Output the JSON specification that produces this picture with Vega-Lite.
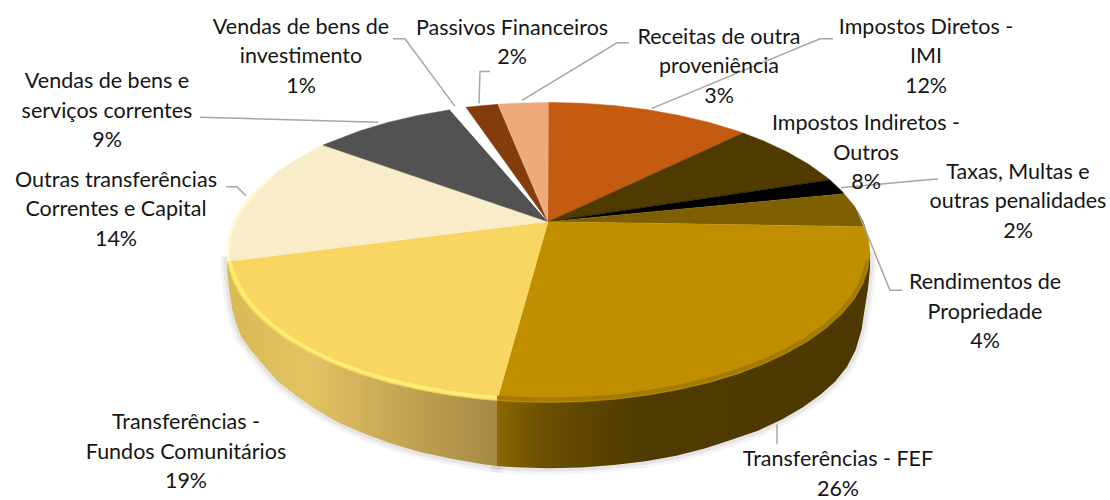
{"$schema":"https://vega.github.io/schema/vega-lite/v6.json","width":1110,"height":500,"autosize":{"type":"fit","contains":"padding"},"padding":0,"background":"white","view":{"stroke":null},
"datasets":{
"slices":[
{"s":"IMI","i":0,"x":548,"y":223},{"s":"IMI","i":1,"x":548.5,"y":103},{"s":"IMI","i":2,"x":582.1,"y":103.8},{"s":"IMI","i":3,"x":615.3,"y":106.3},{"s":"IMI","i":4,"x":647.8,"y":110.4},{"s":"IMI","i":5,"x":679.3,"y":116.1},{"s":"IMI","i":6,"x":709.3,"y":123.2},{"s":"IMI","i":7,"x":737.5,"y":131.8},{"s":"IMI","i":8,"x":743,"y":133.8},
{"s":"Outros","i":0,"x":548,"y":223},{"s":"Outros","i":1,"x":743,"y":133.8},{"s":"Outros","i":2,"x":763.6,"y":141.8},{"s":"Outros","i":3,"x":787.4,"y":153},{"s":"Outros","i":4,"x":808.6,"y":165.2},{"s":"Outros","i":5,"x":826.9,"y":178.5},{"s":"Outros","i":6,"x":830,"y":181},
{"s":"Taxas","i":0,"x":548,"y":223},{"s":"Taxas","i":1,"x":830,"y":181},{"s":"Taxas","i":2,"x":842.2,"y":192.6},{"s":"Taxas","i":3,"x":844,"y":195},
{"s":"Rendimentos","i":0,"x":548,"y":223},{"s":"Rendimentos","i":1,"x":844,"y":195},{"s":"Rendimentos","i":2,"x":854.3,"y":207.3},{"s":"Rendimentos","i":3,"x":863,"y":222.6},{"s":"Rendimentos","i":4,"x":865,"y":228},
{"s":"FEF","i":0,"x":548,"y":223},{"s":"FEF","i":1,"x":865,"y":228},{"s":"FEF","i":2,"x":868.2,"y":238.2},{"s":"FEF","i":3,"x":870,"y":254},{"s":"FEF","i":4,"x":868.2,"y":269.8},{"s":"FEF","i":5,"x":863,"y":285.4},{"s":"FEF","i":6,"x":854.3,"y":300.7},{"s":"FEF","i":7,"x":842.2,"y":315.4},{"s":"FEF","i":8,"x":826.9,"y":329.5},{"s":"FEF","i":9,"x":808.6,"y":342.8},{"s":"FEF","i":10,"x":787.4,"y":355},{"s":"FEF","i":11,"x":763.6,"y":366.2},{"s":"FEF","i":12,"x":737.5,"y":376.2},{"s":"FEF","i":13,"x":709.3,"y":384.8},{"s":"FEF","i":14,"x":679.3,"y":391.9},{"s":"FEF","i":15,"x":647.8,"y":397.6},{"s":"FEF","i":16,"x":615.3,"y":401.7},{"s":"FEF","i":17,"x":582.1,"y":404.2},{"s":"FEF","i":18,"x":548.5,"y":405},{"s":"FEF","i":19,"x":514.9,"y":404.2},{"s":"FEF","i":20,"x":497,"y":403},
{"s":"Fundos","i":0,"x":548,"y":223},{"s":"Fundos","i":1,"x":497,"y":403},{"s":"Fundos","i":2,"x":481.7,"y":401.7},{"s":"Fundos","i":3,"x":449.2,"y":397.6},{"s":"Fundos","i":4,"x":417.7,"y":391.9},{"s":"Fundos","i":5,"x":387.7,"y":384.8},{"s":"Fundos","i":6,"x":359.5,"y":376.2},{"s":"Fundos","i":7,"x":333.4,"y":366.2},{"s":"Fundos","i":8,"x":309.6,"y":355},{"s":"Fundos","i":9,"x":288.4,"y":342.8},{"s":"Fundos","i":10,"x":270.1,"y":329.5},{"s":"Fundos","i":11,"x":254.8,"y":315.4},{"s":"Fundos","i":12,"x":242.7,"y":300.7},{"s":"Fundos","i":13,"x":234,"y":285.4},{"s":"Fundos","i":14,"x":228.8,"y":269.8},{"s":"Fundos","i":15,"x":227.3,"y":263},
{"s":"Correntes","i":0,"x":548,"y":223},{"s":"Correntes","i":1,"x":227.3,"y":263},{"s":"Correntes","i":2,"x":227,"y":254},{"s":"Correntes","i":3,"x":228.8,"y":238.2},{"s":"Correntes","i":4,"x":234,"y":222.6},{"s":"Correntes","i":5,"x":242.7,"y":207.3},{"s":"Correntes","i":6,"x":254.8,"y":192.6},{"s":"Correntes","i":7,"x":270.1,"y":178.5},{"s":"Correntes","i":8,"x":288.4,"y":165.2},{"s":"Correntes","i":9,"x":309.6,"y":153},{"s":"Correntes","i":10,"x":323,"y":146},
{"s":"Vendas","i":0,"x":548,"y":223},{"s":"Vendas","i":1,"x":323,"y":146},{"s":"Vendas","i":2,"x":333.4,"y":141.8},{"s":"Vendas","i":3,"x":359.5,"y":131.8},{"s":"Vendas","i":4,"x":387.7,"y":123.2},{"s":"Vendas","i":5,"x":417.7,"y":116.1},{"s":"Vendas","i":6,"x":450,"y":110.4},
{"s":"Investimento","i":0,"x":548,"y":223},{"s":"Investimento","i":1,"x":450,"y":110.4},{"s":"Investimento","i":2,"x":466,"y":108},
{"s":"Passivos","i":0,"x":548,"y":223},{"s":"Passivos","i":1,"x":466,"y":108},{"s":"Passivos","i":2,"x":481.7,"y":106.3},{"s":"Passivos","i":3,"x":498,"y":105},
{"s":"Receitas","i":0,"x":548,"y":223},{"s":"Receitas","i":1,"x":498,"y":105},{"s":"Receitas","i":2,"x":514.9,"y":103.8},{"s":"Receitas","i":3,"x":548.5,"y":103}
],
"walls":[
{"s":"Fundos","i":0,"x":497,"y":400},{"s":"Fundos","i":1,"x":497,"y":468.8},{"s":"Fundos","i":2,"x":483.2,"y":467},{"s":"Fundos","i":3,"x":451.5,"y":461.5},{"s":"Fundos","i":4,"x":420.8,"y":455},{"s":"Fundos","i":5,"x":391.5,"y":446.5},{"s":"Fundos","i":6,"x":363.9,"y":436},{"s":"Fundos","i":7,"x":338.4,"y":425},{"s":"Fundos","i":8,"x":315.2,"y":411.5},{"s":"Fundos","i":9,"x":294.5,"y":397},{"s":"Fundos","i":10,"x":276.6,"y":382.5},{"s":"Fundos","i":11,"x":261.6,"y":365},{"s":"Fundos","i":12,"x":249.9,"y":351},{"s":"Fundos","i":13,"x":241.4,"y":339},{"s":"Fundos","i":14,"x":236,"y":325},{"s":"Fundos","i":15,"x":232,"y":310},{"s":"Fundos","i":16,"x":229,"y":290},{"s":"Fundos","i":17,"x":227,"y":270},{"s":"Fundos","i":18,"x":227,"y":258},
{"s":"FEF","i":0,"x":497,"y":400},{"s":"FEF","i":1,"x":497,"y":468.8},{"s":"FEF","i":2,"x":515.7,"y":470.1},{"s":"FEF","i":3,"x":548.5,"y":471},{"s":"FEF","i":4,"x":581.3,"y":470.2},{"s":"FEF","i":5,"x":613.8,"y":467.8},{"s":"FEF","i":6,"x":645.5,"y":464},{"s":"FEF","i":7,"x":676.2,"y":458.5},{"s":"FEF","i":8,"x":705.5,"y":451},{"s":"FEF","i":9,"x":733,"y":442},{"s":"FEF","i":10,"x":758.6,"y":433},{"s":"FEF","i":11,"x":781.8,"y":422},{"s":"FEF","i":12,"x":802.5,"y":410},{"s":"FEF","i":13,"x":820,"y":397.5},{"s":"FEF","i":14,"x":835,"y":384},{"s":"FEF","i":15,"x":847,"y":369},{"s":"FEF","i":16,"x":855.6,"y":352},{"s":"FEF","i":17,"x":861.5,"y":332},{"s":"FEF","i":18,"x":864.5,"y":312},{"s":"FEF","i":19,"x":868,"y":290},{"s":"FEF","i":20,"x":870,"y":270},{"s":"FEF","i":21,"x":870,"y":254}
],
"rims":[
{"s":"Fundos","i":0,"x":497,"y":400},{"s":"Fundos","i":1,"x":481.7,"y":398.8},{"s":"Fundos","i":2,"x":449.2,"y":394.6},{"s":"Fundos","i":3,"x":417.7,"y":388.9},{"s":"Fundos","i":4,"x":387.7,"y":381.8},{"s":"Fundos","i":5,"x":359.5,"y":373.2},{"s":"Fundos","i":6,"x":333.4,"y":363.2},{"s":"Fundos","i":7,"x":310.6,"y":352},{"s":"Fundos","i":8,"x":289.9,"y":340},{"s":"Fundos","i":9,"x":272,"y":326.8},{"s":"Fundos","i":10,"x":257,"y":313},{"s":"Fundos","i":11,"x":245,"y":298.5},{"s":"Fundos","i":12,"x":236.5,"y":283.5},{"s":"Fundos","i":13,"x":231,"y":268},{"s":"Fundos","i":14,"x":229.5,"y":263},
{"s":"FEF","i":0,"x":867.5,"y":262},{"s":"FEF","i":1,"x":865.5,"y":270},{"s":"FEF","i":2,"x":860.5,"y":285},{"s":"FEF","i":3,"x":852,"y":299.5},{"s":"FEF","i":4,"x":840.2,"y":313.5},{"s":"FEF","i":5,"x":825.2,"y":327.5},{"s":"FEF","i":6,"x":807,"y":340.5},{"s":"FEF","i":7,"x":786,"y":352.5},{"s":"FEF","i":8,"x":762.6,"y":363.5},{"s":"FEF","i":9,"x":736.5,"y":373.4},{"s":"FEF","i":10,"x":708.5,"y":382},{"s":"FEF","i":11,"x":678.8,"y":389},{"s":"FEF","i":12,"x":647.5,"y":394.7},{"s":"FEF","i":13,"x":615.1,"y":398.8},{"s":"FEF","i":14,"x":582,"y":401.2},{"s":"FEF","i":15,"x":548.5,"y":402},{"s":"FEF","i":16,"x":514.9,"y":401.2},{"s":"FEF","i":17,"x":497,"y":400},
{"s":"Correntes","i":0,"x":228.5,"y":263},{"s":"Correntes","i":1,"x":228,"y":254},{"s":"Correntes","i":2,"x":229.8,"y":238.2},{"s":"Correntes","i":3,"x":235,"y":222.6},{"s":"Correntes","i":4,"x":243.7,"y":207.3},{"s":"Correntes","i":5,"x":255.8,"y":192.6},{"s":"Correntes","i":6,"x":271,"y":178.5}
],
"leaders":[
{"g":"Investimento","i":0,"x":393,"y":39},{"g":"Investimento","i":1,"x":405,"y":39},{"g":"Investimento","i":2,"x":455,"y":107},
{"g":"Passivos","i":0,"x":490,"y":72},{"g":"Passivos","i":1,"x":480,"y":72},{"g":"Passivos","i":2,"x":479,"y":104},
{"g":"Receitas","i":0,"x":629,"y":43},{"g":"Receitas","i":1,"x":617,"y":43},{"g":"Receitas","i":2,"x":522,"y":101},
{"g":"IMI","i":0,"x":833,"y":39},{"g":"IMI","i":1,"x":820,"y":39},{"g":"IMI","i":2,"x":652,"y":109},
{"g":"Taxas","i":0,"x":938,"y":180},{"g":"Taxas","i":1,"x":925,"y":181},{"g":"Taxas","i":2,"x":841,"y":189},
{"g":"Rendimentos","i":0,"x":902,"y":292},{"g":"Rendimentos","i":1,"x":890,"y":292},{"g":"Rendimentos","i":2,"x":858,"y":213},
{"g":"FEF","i":0,"x":777,"y":447},{"g":"FEF","i":1,"x":777,"y":427},
{"g":"Correntes","i":0,"x":226,"y":188},{"g":"Correntes","i":1,"x":237,"y":188},{"g":"Correntes","i":2,"x":246,"y":197},
{"g":"Vendas","i":0,"x":200,"y":118},{"g":"Vendas","i":1,"x":378,"y":123}
],
"labels":[
{"t":"Vendas de bens de\ninvestimento\n1%","x":301,"y":34},
{"t":"Passivos Financeiros\n2%","x":512,"y":35},
{"t":"Receitas de outra\nproveniência\n3%","x":719,"y":44},
{"t":"Impostos Diretos -\nIMI\n12%","x":926,"y":34},
{"t":"Impostos Indiretos -\nOutros\n8%","x":866,"y":131},
{"t":"Taxas, Multas e\noutras penalidades\n2%","x":1018,"y":180},
{"t":"Rendimentos de\nPropriedade\n4%","x":985,"y":291},
{"t":"Transferências - FEF\n26%","x":838,"y":469},
{"t":"Transferências -\nFundos Comunitários\n19%","x":186,"y":432},
{"t":"Outras transferências\nCorrentes e Capital\n14%","x":116,"y":188},
{"t":"Vendas de bens e\nserviços correntes\n9%","x":107,"y":89}
]},
"encoding":{
"x":{"field":"x","type":"quantitative","axis":null,"scale":{"domain":[0,1110],"nice":false,"zero":false}},
"y":{"field":"y","type":"quantitative","axis":null,"scale":{"domain":[500,0],"nice":false,"zero":false}}
},
"layer":[
{"data":{"name":"walls"},"mark":{"type":"line","stroke":"#000000","strokeWidth":13,"opacity":0.045},"encoding":{"detail":{"field":"s"},"order":{"field":"i","type":"quantitative"}}},
{"data":{"name":"walls"},"mark":{"type":"line","stroke":"#000000","strokeWidth":7,"opacity":0.06},"encoding":{"detail":{"field":"s"},"order":{"field":"i","type":"quantitative"}}},
{"data":{"name":"walls"},"transform":[{"filter":"datum.s==='Fundos'"}],"mark":{"type":"line","strokeWidth":0,"fill":{"gradient":"linear","x1":0,"y1":0,"x2":1,"y2":0,"stops":[{"offset":0,"color":"#D8B955"},{"offset":0.3,"color":"#E2C362"},{"offset":0.6,"color":"#C8A957"},{"offset":1,"color":"#A58A45"}]}},"encoding":{"order":{"field":"i","type":"quantitative"}}},
{"data":{"name":"walls"},"transform":[{"filter":"datum.s==='FEF'"}],"mark":{"type":"line","strokeWidth":0,"fill":{"gradient":"linear","x1":0,"y1":0,"x2":1,"y2":0,"stops":[{"offset":0,"color":"#8A6800"},{"offset":0.12,"color":"#6B5000"},{"offset":0.38,"color":"#4F3A00"},{"offset":1,"color":"#4D3800"}]}},"encoding":{"order":{"field":"i","type":"quantitative"}}},
{"data":{"name":"slices"},"mark":{"type":"line","strokeWidth":0.5},"encoding":{"order":{"field":"i","type":"quantitative"},
"fill":{"field":"s","type":"nominal","legend":null,"scale":{"domain":["IMI","Outros","Taxas","Rendimentos","FEF","Fundos","Correntes","Vendas","Investimento","Passivos","Receitas"],"range":["#C55A11","#4F3A00","#000000","#7F6000","#BF8F00","#F9D662","#F9ECC8","#525252","#FFFFFF","#843C0C","#EFAA7C"]}},
"stroke":{"field":"s","type":"nominal","legend":null,"scale":{"domain":["IMI","Outros","Taxas","Rendimentos","FEF","Fundos","Correntes","Vendas","Investimento","Passivos","Receitas"],"range":["#C55A11","#4F3A00","#000000","#7F6000","#BF8F00","#F9D662","#F9ECC8","#525252","#FFFFFF","#843C0C","#EFAA7C"]}}}},
{"data":{"name":"rims"},"transform":[{"filter":"datum.s==='Fundos'"}],"mark":{"type":"line","stroke":"#FFEE70","strokeWidth":3.5},"encoding":{"order":{"field":"i","type":"quantitative"}}},
{"data":{"name":"rims"},"transform":[{"filter":"datum.s==='FEF'"}],"mark":{"type":"line","stroke":"#A27B00","strokeWidth":4},"encoding":{"order":{"field":"i","type":"quantitative"}}},
{"data":{"name":"rims"},"transform":[{"filter":"datum.s==='Correntes'"}],"mark":{"type":"line","stroke":"#FFFBD0","strokeWidth":3},"encoding":{"order":{"field":"i","type":"quantitative"}}},
{"data":{"name":"leaders"},"mark":{"type":"line","stroke":"#A6A6A6","strokeWidth":1.5},"encoding":{"detail":{"field":"g"},"order":{"field":"i","type":"quantitative"}}},
{"data":{"name":"labels"},"mark":{"type":"text","font":"Lato","fontSize":21.5,"align":"center","baseline":"alphabetic","lineBreak":"\n","lineHeight":29.5,"color":"#151515"},"encoding":{"text":{"field":"t","type":"nominal"}}}
]}
